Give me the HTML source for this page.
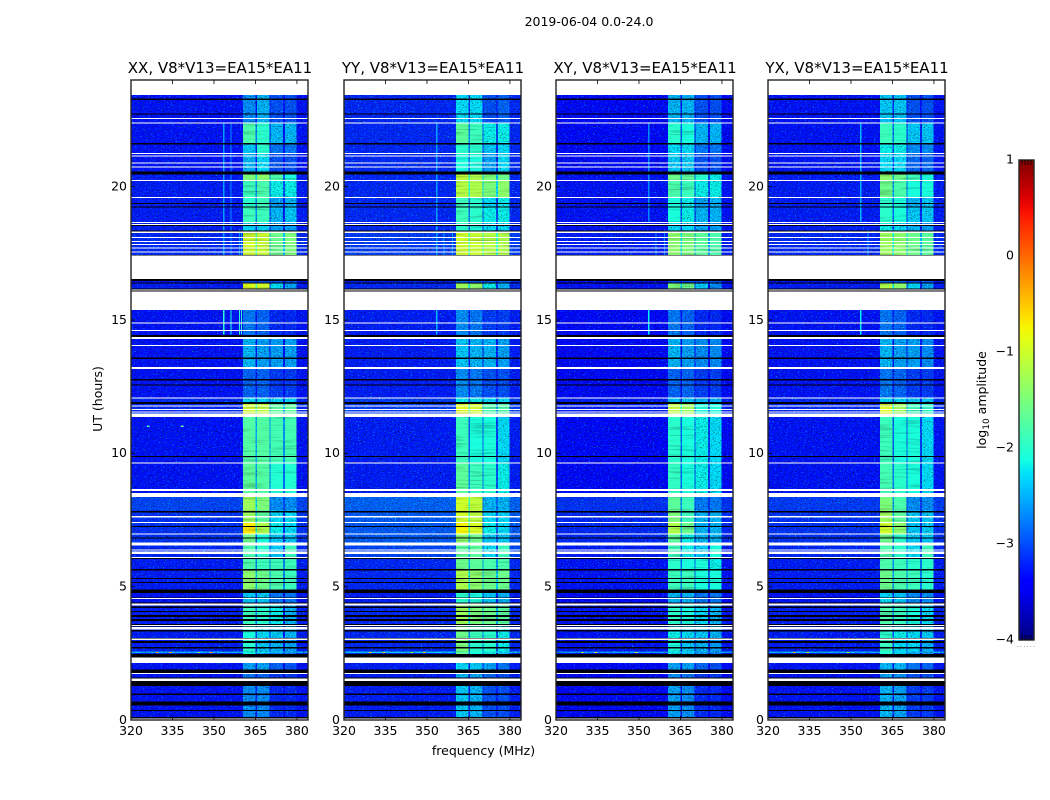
<!DOCTYPE html>
<html lang="en">
<head>
<meta charset="utf-8">
<title>Dynamic spectrum 2019-06-04</title>
<style>
html,body{margin:0;padding:0;background:#fff;width:1050px;height:800px;overflow:hidden}
svg{display:block}
text{font-family:"DejaVu Sans","Liberation Sans",sans-serif;fill:#000;font-size:12.5px}
</style>
</head>
<body>
<svg id="chart" xmlns="http://www.w3.org/2000/svg" width="1050" height="800" viewBox="0 0 1050 800">
<defs>
<filter id="speckle" filterUnits="userSpaceOnUse" x="0" y="0" width="1050" height="800" color-interpolation-filters="sRGB">
<feTurbulence type="fractalNoise" baseFrequency="0.62 0.8" numOctaves="2" seed="7" result="n"/>
<feColorMatrix in="n" type="matrix" values="2.1 0 0 0 0  2.1 0 0 0 0  2.1 0 0 0 0  0 0 0 0 1" result="mul"/>
<feComposite in="SourceGraphic" in2="mul" operator="arithmetic" k1="1" k2="0" k3="0" k4="0" result="mod"/>
<feColorMatrix in="n" type="matrix" values="0 0 0 0 0  0 2.8 0 0 -1.75  0 0 0 0 0  0 0 0 0 1" result="green"/>
<feComposite in="mod" in2="green" operator="arithmetic" k1="0" k2="1" k3="1" k4="0" result="sum"/>
<feComposite in="sum" in2="SourceGraphic" operator="in"/>
</filter>
<filter id="striate" filterUnits="userSpaceOnUse" x="0" y="0" width="1050" height="800" color-interpolation-filters="sRGB">
<feTurbulence type="fractalNoise" baseFrequency="0.03 0.55" numOctaves="2" seed="3" result="n"/>
<feColorMatrix in="n" type="matrix" values="0.7 0 0 0 0.65  0.7 0 0 0 0.65  0.7 0 0 0 0.65  0 0 0 0 1" result="mul"/>
<feComposite in="SourceGraphic" in2="mul" operator="arithmetic" k1="1" k2="0" k3="0" k4="0" result="mod"/>
<feComposite in="mod" in2="SourceGraphic" operator="in"/>
</filter>
<linearGradient id="jet-gradient" x1="0" y1="1" x2="0" y2="0"></linearGradient>
</defs>
<text x="589" y="26" text-anchor="middle">2019-06-04 0.0-24.0</text>
<text x="483.5" y="755" text-anchor="middle">frequency (MHz)</text>
<text transform="translate(102,399) rotate(-90)" text-anchor="middle">UT (hours)</text>
<text transform="translate(986,400) rotate(-90)" text-anchor="middle">log<tspan font-size="9" dy="3">10</tspan><tspan dy="-3"> amplitude</tspan></text>
</svg>
<script>
// ---- data (hours UT, MHz, log10 amplitude) ----
const panelTitles = ["XX, V8*V13=EA15*EA11", "YY, V8*V13=EA15*EA11", "XY, V8*V13=EA15*EA11", "YX, V8*V13=EA15*EA11"];
const xTickValues = [320, 335, 350, 365, 380];
const yTickValues = [0, 5, 10, 15, 20];
const colorbarTicks = [1, 0, -1, -2, -3, -4];

// frequency channels: edges in MHz and the band column (0 = background, 1-4 = spectral windows, -1 = gap between windows)
const channelEdges = [320, 360.5, 365, 365.6, 370, 370.5, 375, 375.6, 379.8, 384];
const channelBand = [0, 1, -1, 2, -1, 3, -1, 4, 0];

// time segments
const segmentEdges = [0, 1.28, 1.74, 2.14, 2.52, 2.56, 3, 3.57, 4.36, 4.89, 5.6, 6.08, 6.65, 7, 7.4, 7.85, 8.36, 9.66, 11.36, 11.85, 12.1, 13.17, 14.37, 15.375, 16.06, 16.37, 16.54, 17.41, 18.31, 18.68, 19.21, 19.6, 20.25, 20.5, 21.25, 21.63, 22.36, 23.44];

// log10 amplitude per segment: [background, band1, band2, band3, band4]; null = no data
const levelsXX = [
[-3.3,-2.7,-2.7,-3.2,-3.2],[-3.3,-2.8,-2.9,-3.1,-3.1],[-3.3,-2.6,-2.6,-2.9,-3.0],[-3.25,-2.1,-2.5,-2.7,-2.8],
[-2.5,-2.2,-2.3,-2.5,-2.6],[-3.25,-2.0,-2.4,-2.5,-2.6],[-3.25,-2.1,-2.3,-2.4,-2.5],[-3.25,-1.9,-2.0,-2.2,-2.5],
[-3.3,-2.4,-2.4,-2.8,-2.8],[-3.25,-1.4,-1.6,-1.8,-1.9],[-3.25,-1.8,-1.9,-1.9,-1.9],[-3.2,-1.8,-2.0,-2.4,-1.9],
[-3.15,-1.6,-2.1,-2.4,-2.4],[-3.15,-0.7,-1.2,-2.2,-2.3],[-3.15,-1.3,-1.7,-2.3,-2.3],[-3.05,-1.3,-1.5,-2.7,-2.7],
[-3.3,-1.7,-1.75,-2.05,-2.05],[-3.3,-1.75,-1.75,-1.85,-1.85],[-3.2,-1.0,-1.1,-1.7,-1.7],[-3.2,-2.3,-2.3,-2.3,-2.3],
[-3.3,-2.9,-2.9,-3.1,-3.1],[-3.3,-2.5,-2.6,-2.6,-2.6],[-3.3,-2.8,-2.9,-3.2,-3.2],null,
[-3.25,-0.9,-1.0,-2.3,-2.6],[-3.3,-3.0,-3.0,-3.0,-3.0],null,[-3.2,-1.0,-1.05,-1.6,-1.5],
[-3.25,-2.3,-2.3,-2.6,-2.6],[-3.25,-1.9,-1.9,-2.5,-2.4],[-3.25,-2.0,-1.9,-2.6,-2.5],[-3.25,-1.9,-1.8,-2.2,-2.2],
[-3.25,-1.5,-1.4,-1.8,-2.1],[-3.3,-2.5,-2.3,-3.0,-3.0],[-3.3,-2.4,-2.0,-2.8,-2.8],[-3.3,-1.8,-2.0,-2.5,-2.5],
[-3.3,-2.7,-2.5,-3.0,-3.0]];
const levelsYY = [
[-3.25,-2.4,-2.5,-3.0,-3.0],[-3.25,-2.5,-2.6,-2.9,-3.0],[-3.25,-2.3,-2.4,-2.6,-2.8],[-3.2,-1.6,-2.1,-2.2,-2.4],
[-2.4,-1.8,-2.1,-2.2,-2.4],[-3.2,-1.5,-2.0,-2.0,-2.2],[-3.2,-1.6,-1.9,-2.0,-2.2],[-3.2,-1.3,-1.5,-1.6,-1.7],
[-3.25,-2.0,-2.1,-2.4,-2.5],[-3.2,-1.2,-1.4,-1.6,-1.6],[-3.2,-1.6,-1.7,-1.8,-1.8],[-3.05,-1.7,-1.7,-2.3,-1.9],
[-2.95,-1.4,-1.6,-2.4,-2.4],[-2.95,-0.75,-0.95,-2.2,-2.3],[-2.95,-1.0,-1.1,-2.3,-2.3],[-2.9,-1.0,-1.1,-2.5,-2.5],
[-3.25,-1.7,-1.9,-2.0,-2.2],[-3.25,-1.9,-2.1,-2.1,-2.3],[-3.1,-0.9,-1.0,-1.8,-1.8],[-3.1,-2.2,-2.2,-2.3,-2.3],
[-3.25,-2.7,-2.8,-3.0,-3.0],[-3.25,-2.4,-2.5,-2.5,-2.6],[-3.25,-2.7,-2.8,-3.1,-3.1],null,
[-3.2,-1.3,-1.4,-2.2,-2.5],[-3.25,-2.9,-2.9,-2.9,-2.9],null,[-3.1,-1.0,-1.05,-1.15,-1.2],
[-3.2,-2.0,-2.1,-2.3,-2.3],[-3.2,-1.9,-2.0,-2.2,-2.2],[-3.2,-1.9,-2.0,-2.3,-2.2],[-3.2,-1.15,-1.2,-1.5,-1.4],
[-3.2,-1.1,-1.2,-1.5,-1.6],[-3.2,-2.1,-2.1,-2.6,-2.3],[-3.2,-2.0,-2.0,-2.4,-2.3],[-3.2,-1.7,-1.9,-2.2,-2.2],
[-3.2,-2.3,-2.3,-3.0,-2.9]];
const levelsXY = [
[-3.35,-2.6,-2.7,-3.2,-3.2],[-3.35,-2.7,-2.8,-3.1,-3.1],[-3.35,-2.6,-2.6,-2.9,-3.0],[-3.3,-2.2,-2.4,-2.7,-2.8],
[-2.6,-2.3,-2.4,-2.6,-2.7],[-3.3,-2.1,-2.4,-2.5,-2.6],[-3.3,-2.2,-2.3,-2.4,-2.5],[-3.3,-2.0,-2.1,-2.3,-2.5],
[-3.35,-2.5,-2.5,-2.8,-2.8],[-3.3,-1.9,-1.9,-2.1,-2.1],[-3.3,-2.0,-2.1,-2.1,-2.2],[-3.25,-1.9,-2.2,-2.4,-2.1],
[-3.2,-1.7,-2.2,-2.5,-2.5],[-3.2,-1.2,-1.6,-2.5,-2.5],[-3.2,-1.5,-1.9,-2.5,-2.5],[-3.15,-1.7,-1.9,-2.8,-2.8],
[-3.35,-1.95,-2.1,-2.2,-2.3],[-3.35,-2.0,-2.1,-2.2,-2.3],[-3.25,-1.1,-1.3,-2.1,-2.1],[-3.25,-2.4,-2.4,-2.5,-2.5],
[-3.35,-2.9,-2.9,-3.1,-3.1],[-3.35,-2.5,-2.6,-2.7,-2.7],[-3.35,-2.8,-2.9,-3.2,-3.2],null,
[-3.3,-1.5,-1.6,-2.4,-2.7],[-3.35,-3.0,-3.0,-3.0,-3.0],null,[-3.25,-1.4,-1.5,-1.7,-1.8],
[-3.3,-2.3,-2.3,-2.6,-2.6],[-3.3,-2.1,-2.2,-2.5,-2.5],[-3.3,-2.1,-2.2,-2.6,-2.5],[-3.3,-1.8,-1.9,-2.2,-2.2],
[-3.3,-1.6,-1.7,-2.0,-2.2],[-3.35,-2.4,-2.4,-3.0,-3.0],[-3.35,-2.3,-2.3,-2.8,-2.8],[-3.35,-2.0,-2.1,-2.5,-2.5],
[-3.35,-2.5,-2.5,-3.0,-3.0]];
const levelsYX = [
[-3.3,-2.5,-2.6,-3.1,-3.1],[-3.3,-2.6,-2.7,-3.0,-3.0],[-3.3,-2.5,-2.5,-2.8,-2.9],[-3.25,-2.0,-2.3,-2.6,-2.7],
[-2.5,-2.1,-2.3,-2.5,-2.6],[-3.25,-1.9,-2.3,-2.3,-2.5],[-3.25,-2.0,-2.2,-2.3,-2.4],[-3.25,-1.8,-1.9,-2.1,-2.3],
[-3.3,-2.3,-2.4,-2.7,-2.7],[-3.25,-1.6,-1.8,-1.9,-2.0],[-3.25,-1.8,-1.9,-2.0,-2.0],[-3.2,-1.8,-2.0,-2.3,-1.9],
[-3.15,-1.6,-2.0,-2.4,-2.4],[-3.15,-1.0,-1.4,-2.4,-2.4],[-3.15,-1.3,-1.7,-2.4,-2.4],[-3.1,-1.5,-1.8,-2.7,-2.7],
[-3.3,-1.85,-2.0,-2.1,-2.3],[-3.3,-1.9,-2.1,-2.1,-2.3],[-3.2,-0.9,-1.3,-1.9,-2.0],[-3.2,-2.3,-2.3,-2.4,-2.4],
[-3.3,-2.8,-2.9,-3.1,-3.1],[-3.3,-2.5,-2.6,-2.6,-2.7],[-3.3,-2.8,-2.9,-3.2,-3.2],null,
[-3.25,-1.2,-1.4,-2.3,-2.6],[-3.3,-2.9,-2.9,-3.0,-3.0],null,[-3.2,-1.3,-1.4,-1.6,-1.7],
[-3.25,-2.2,-2.3,-2.5,-2.6],[-3.25,-2.0,-2.1,-2.4,-2.4],[-3.25,-2.0,-2.1,-2.5,-2.4],[-3.25,-1.6,-1.8,-2.1,-2.1],
[-3.25,-1.4,-1.6,-1.9,-2.1],[-3.3,-2.3,-2.3,-2.9,-2.9],[-3.3,-2.2,-2.2,-2.7,-2.7],[-3.3,-1.9,-2.0,-2.4,-2.4],
[-3.3,-2.4,-2.4,-3.0,-3.0]];
const panelLevels = [levelsXX, levelsYY, levelsXY, levelsYX];

// narrow-band interference lines: panel index, frequency, time span, level
const linePanel = [0,0,0,0,0,0,0,0, 1,1,1,1, 2,2,2,2, 3,3,3];
const lineFreq  = [353.3,355.9,359,359.7,353.3,355.9,359,359.7, 353.3,355.9,359,353.3, 353.3,355.9,353.3,359, 353.3,355.9,353.3];
const lineStart = [14.45,14.45,14.45,14.45,17.41,17.41,17.41,17.41, 14.45,17.41,17.41,17.41, 14.45,17.41,18.7,17.41, 14.45,17.41,18.7];
const lineEnd   = [15.375,15.375,15.375,15.375,22.4,22.4,18.4,18.4, 15.375,18.4,18.4,22.4, 15.375,18.4,22.4,18.4, 15.375,18.4,22.4];
const lineLevel = [-2.0,-2.1,-2.0,-2.0,-2.6,-2.7,-2.7,-2.6, -2.5,-2.6,-2.6,-2.6, -2.2,-2.7,-2.7,-2.7, -2.2,-2.6,-2.5];

// isolated bright pixels
const spotPanel = [0,0,0,0,0,0, 1,1,1,1, 2,2,2, 3,3,3];
const spotFreq  = [329,334,344,348.5,338,325.8, 329,334,348.5,344, 329,334,348.5, 329,334,348.5];
const spotHour  = [2.54,2.54,2.54,2.54,11.02,11.02, 2.54,2.54,2.54,2.54, 2.54,2.54,2.54, 2.54,2.54,2.54];
const spotLevel = [-0.4,-0.3,-1.2,-0.3,-1.6,-1.8, -0.6,-0.5,-0.6,-1.2, -0.9,-0.8,-1.0, -0.5,-0.6,-0.9];

// flagged time ranges (no data = white, zero amplitude = black)
const whiteStart = [22.54,22.36,21.24,21.15,20.87,20.74,20.22,19.60,18.65,18.56,18.27,18.08,17.93,17.81,17.68,17.53,16.54,16.10,15.375,14.88,14.59,14.29,14.04,13.17,12.05,11.78,11.65,11.54,11.36,9.64,8.59,8.36,7.59,7.39,6.96,6.54,6.36,6.22,6.08,4.53,4.30,3.53,3.40,3.00,2.14,1.74,1.46,0];
const whiteEnd   = [22.575,22.40,21.27,21.17,20.91,20.76,20.25,19.62,18.68,18.60,18.31,18.11,17.96,17.85,17.72,17.57,17.41,16.14,16.06,14.90,14.63,14.37,14.06,13.24,12.10,11.80,11.67,11.56,11.50,9.66,8.66,8.51,7.65,7.43,7.00,6.65,6.40,6.31,6.12,4.58,4.36,3.57,3.48,3.05,2.34,1.77,1.55,0.05];
const blackStart = [23.25,22.71,21.59,20.46,19.35,19.21,18.52,18.31,17.41,16.47,16.37,16.14,16.06,14.37,13.54,12.74,12.54,11.85,9.86,7.78,7.24,6.80,6.04,5.60,5.28,5.15,4.77,4.58,4.36,4.20,4.05,3.87,3.72,3.57,3.48,3.31,3.05,2.89,2.69,2.34,1.77,1.55,1.28,0.94,0.54,0.34,0.05];
const blackEnd   = [23.30,22.74,21.63,20.56,19.39,19.25,18.56,18.35,17.44,16.54,16.41,16.18,16.10,14.44,13.59,12.78,12.59,11.93,9.90,7.84,7.28,6.85,6.08,5.67,5.33,5.18,4.89,4.60,4.40,4.25,4.09,3.93,3.78,3.60,3.51,3.38,3.08,2.97,2.73,2.48,1.90,1.59,1.46,0.99,0.69,0.38,0.12];

// colormap anchors (matplotlib jet)
const jetR = [[0,0],[0.35,0],[0.66,1],[0.89,1],[1,0.5]];
const jetG = [[0,0],[0.125,0],[0.375,1],[0.64,1],[0.91,0],[1,0]];
const jetB = [[0,0.5],[0.11,1],[0.34,1],[0.65,0],[1,0]];

// ---- layout ----
const NS = "http://www.w3.org/2000/svg";
const svg = document.getElementById("chart");
const panelLeft = [131, 344, 556, 768];
const panelWidth = 177;
const plotTop = 80, plotBottom = 720;
const freqMin = 320, freqMax = 384, hourMin = 0, hourMax = 24;
const levelMin = -4, levelMax = 1;
const barLeft = 1019, barWidth = 15, barTop = 160, barBottom = 640;

function xScale(panel, f) { return panelLeft[panel] + (f - freqMin) / (freqMax - freqMin) * panelWidth; }
function yScale(h) { return plotBottom - (h - hourMin) / (hourMax - hourMin) * (plotBottom - plotTop); }
function barScale(v) { return barBottom - (v - levelMin) / (levelMax - levelMin) * (barBottom - barTop); }
function lerp(table, t) {
  for (let i = 1; i < table.length; i++) {
    if (t <= table[i][0]) {
      const a = table[i - 1], b = table[i];
      return a[1] + (b[1] - a[1]) * (t - a[0]) / (b[0] - a[0]);
    }
  }
  return table[table.length - 1][1];
}
function jet(v) {
  const t = Math.max(0, Math.min(1, (v - levelMin) / (levelMax - levelMin)));
  return "rgb(" + Math.round(lerp(jetR, t) * 255) + "," + Math.round(lerp(jetG, t) * 255) + "," + Math.round(lerp(jetB, t) * 255) + ")";
}
function make(tag, attrs, parent) {
  const el = document.createElementNS(NS, tag);
  for (const k in attrs) el.setAttribute(k, attrs[k]);
  (parent || svg).appendChild(el);
  return el;
}
// a gap between spectral windows leaks from its two neighbours but stays well below them
function cellLevel(row, c) {
  const band = channelBand[c];
  if (band >= 0) return row[band];
  return Math.max(row[0], Math.min(row[channelBand[c - 1]], row[channelBand[c + 1]]) - 0.8);
}

panelTitles.forEach(function (title, p) {
  const panelGroup = make("g", {});
  
  

  const noisy = make("g", { filter: "url(#speckle)", "shape-rendering": "crispEdges" }, panelGroup);
  
  
  const smooth = make("g", { filter: "url(#striate)", "shape-rendering": "crispEdges" }, panelGroup);
  
  
  const levels = panelLevels[p];

  for (let s = 0; s < levels.length; s++) {
    const row = levels[s];
    if (!row) continue;
    const yA = yScale(segmentEdges[s + 1]), yB = yScale(segmentEdges[s]);
    for (let c = 0; c < channelBand.length; c++) {
      const value = cellLevel(row, c);
      const xA = xScale(p, channelEdges[c]), xB = xScale(p, channelEdges[c + 1]);
      const target = value < -2.15 ? noisy : smooth;
      const cell = make("rect", { x: xA, y: yA, width: xB - xA, height: yB - yA, fill: jet(value) }, target);
      
      
    }
  }

  const marks = make("g", { "shape-rendering": "crispEdges" }, panelGroup);
  
  
  lineFreq.forEach(function (f, i) {
    if (linePanel[i] !== p) return;
    const ln = make("rect", { x: xScale(p, f), y: yScale(lineEnd[i]), width: 1.2, height: yScale(lineStart[i]) - yScale(lineEnd[i]), fill: jet(lineLevel[i]) }, marks);
    
    
  });
  spotFreq.forEach(function (f, i) {
    if (spotPanel[i] !== p) return;
    const sp = make("rect", { x: xScale(p, f), y: yScale(spotHour[i]) - 0.5, width: 2.5, height: 1.2, fill: jet(spotLevel[i]) }, marks);
    
    
  });

  const flags = make("g", { "shape-rendering": "crispEdges" }, panelGroup);
  
  
  blackStart.forEach(function (h, i) {
    const r = make("rect", { x: panelLeft[p], y: yScale(blackEnd[i]), width: panelWidth, height: Math.max(1, yScale(h) - yScale(blackEnd[i])), fill: "#000008" }, flags);
    
    
  });
  whiteStart.forEach(function (h, i) {
    const r = make("rect", { x: panelLeft[p], y: yScale(whiteEnd[i]), width: panelWidth, height: Math.max(1, yScale(h) - yScale(whiteEnd[i])), fill: "#fff" }, flags);
    
    
  });

  const frame = make("rect", { x: panelLeft[p], y: plotTop, width: panelWidth, height: plotBottom - plotTop, fill: "none", stroke: "#222", "stroke-width": 1.4 }, panelGroup);
  
  

  const titleEl = make("text", { x: panelLeft[p] + panelWidth / 2 + 0.5, y: 73, "text-anchor": "middle", style: "font-size:15px" }, panelGroup);
  titleEl.textContent = title;
  
  

  xTickValues.forEach(function (v) {
    const x = xScale(p, v);
    if (v !== xTickValues[0]) {
      const tb = make("line", { x1: x, x2: x, y1: plotBottom, y2: plotBottom - 4, stroke: "#000", "stroke-width": 0.8 }, panelGroup);
      
      
      const tt = make("line", { x1: x, x2: x, y1: plotTop, y2: plotTop + 4, stroke: "#000", "stroke-width": 0.8 }, panelGroup);
      
      
    }
    const lab = make("text", { x: x, y: 735, "text-anchor": "middle" }, panelGroup);
    lab.textContent = v;
    
    
  });
  yTickValues.forEach(function (v) {
    const y = yScale(v);
    if (v !== yTickValues[0]) {
      const t = make("line", { x1: panelLeft[p], x2: panelLeft[p] + 4, y1: y, y2: y, stroke: "#000", "stroke-width": 0.8 }, panelGroup);
      
      
    }
    const lab = make("text", { x: panelLeft[p] - 4, y: y + 3.8, "text-anchor": "end" }, panelGroup);
    lab.textContent = v;
    
    
  });
});

// ---- colorbar ----
const grad = document.getElementById("jet-gradient");
for (let i = 0; i <= 40; i++) {
  const stop = document.createElementNS(NS, "stop");
  stop.setAttribute("offset", i / 40);
  stop.setAttribute("stop-color", jet(levelMin + (levelMax - levelMin) * i / 40));
  grad.appendChild(stop);
}
const barGroup = make("g", {});


const barRect = make("rect", { x: barLeft, y: barTop, width: barWidth, height: barBottom - barTop, fill: "url(#jet-gradient)", stroke: "#222", "stroke-width": 1.4 }, barGroup);


colorbarTicks.forEach(function (v) {
  const lab = make("text", { x: barLeft - 5, y: barScale(v) + 3.5, "text-anchor": "end" }, barGroup);
  lab.textContent = String(v).replace("-", "\u2212");
  
  
});
[0.2, 0.4, 0.6, 0.8].forEach(function (frac) {
  const x = barLeft + barWidth * frac;
  const a = make("line", { x1: x, x2: x, y1: barTop, y2: barTop + 5, stroke: "#000", "stroke-width": 0.7 }, barGroup);
  
  
  const b = make("line", { x1: x, x2: x, y1: barBottom, y2: barBottom - 5, stroke: "#000", "stroke-width": 0.7 }, barGroup);
  
  
});
const dots = make("text", { x: barLeft + barWidth / 2, y: 647, "text-anchor": "middle", style: "font-size:7px;fill:#777;letter-spacing:1px" }, barGroup);
dots.textContent = "......";


</script>
</body>
</html>
